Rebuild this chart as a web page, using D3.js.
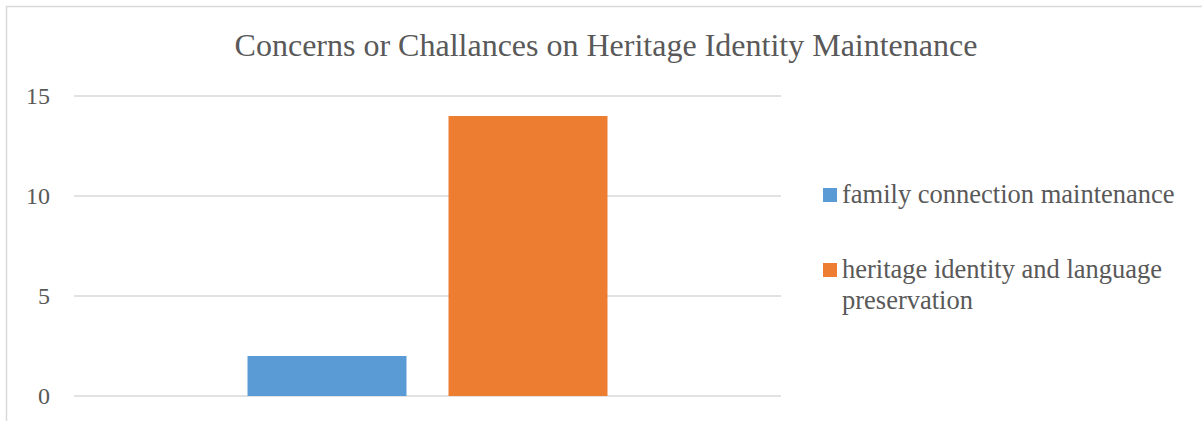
<!DOCTYPE html>
<html>
<head>
<meta charset="utf-8">
<script src="https://cdn.jsdelivr.net/npm/d3@7"></script>
<style>
  body { margin: 0; background: #fff; }
  text { font-family: "Liberation Serif", "Times New Roman", serif; fill: #595959; }
</style>
</head>
<body>
<script>
// chart data
const categories = ["Concerns"]
const seriesNames = ["family connection maintenance", "heritage identity and language preservation"]
const seriesValues = [2, 14]
const seriesColors = ["#5b9bd5", "#ed7d31"]
const yTicks = [0, 5, 10, 15]

const width = 1202, height = 421
const plot = { left: 74, right: 781, top: 96, bottom: 396 }

const svg = d3.select("body").append("svg")
    .attr("width", width)
    .attr("height", height)

// chart border (only top/left show inside the window)
svg.append("rect")
    .attr("x", 6.5).attr("y", 6.5)
    .attr("width", width + 20).attr("height", height + 20)
    .attr("fill", "none")
    .attr("stroke", "#d9d9d9")
    .attr("stroke-width", 1.5)

const y = d3.scaleLinear()
    .domain([0, 15])
    .range([plot.bottom, plot.top])

const x0 = d3.scaleBand()
    .domain(categories)
    .range([plot.left, plot.right])
    .paddingInner(0)
    .paddingOuter(0.482)

const x1 = d3.scaleBand()
    .domain(seriesNames)
    .range([0, x0.bandwidth()])
    .paddingInner(0.209)
    .paddingOuter(0)

// gridlines
svg.append("g")
    .selectAll("line")
    .data(yTicks)
    .enter().append("line")
      .attr("x1", plot.left).attr("x2", plot.right)
      .attr("y1", d => y(d)).attr("y2", d => y(d))
      .attr("stroke", "#d9d9d9")
      .attr("stroke-width", 1.5)

// y labels
svg.append("g")
    .selectAll("text")
    .data(yTicks)
    .enter().append("text")
      .attr("x", 50)
      .attr("y", d => y(d))
      .attr("dy", "0.33em")
      .attr("text-anchor", "end")
      .style("font-size", "24px")
      .text(d => d)

// bars
svg.append("g")
    .selectAll("rect")
    .data(seriesNames.map((s, i) => ({ name: s, value: seriesValues[i], color: seriesColors[i] })))
    .enter().append("rect")
      .attr("x", d => x0(categories[0]) + x1(d.name))
      .attr("width", x1.bandwidth())
      .attr("y", d => y(d.value))
      .attr("height", d => y(0) - y(d.value))
      .attr("fill", d => d.color)

// title
svg.append("text")
    .attr("x", 606)
    .attr("y", 56)
    .attr("text-anchor", "middle")
    .style("font-size", "32px")
    .text("Concerns or Challances on Heritage Identity Maintenance")

// legend
const legendLines = [["family connection maintenance"], ["heritage identity and language", "preservation"]]
const legendY = [203, 278]

const legend = svg.append("g")
    .selectAll("g")
    .data(seriesNames)
    .enter().append("g")

legend.append("rect")
    .attr("x", 823)
    .attr("y", (d, i) => legendY[i] - 15)
    .attr("width", 14).attr("height", 14)
    .attr("fill", (d, i) => seriesColors[i])

legend.append("text")
    .attr("y", (d, i) => legendY[i])
    .style("font-size", "26.5px")
    .selectAll("tspan")
    .data((d, i) => legendLines[i])
    .enter().append("tspan")
      .attr("x", 842)
      .attr("dy", (d, j) => j === 0 ? 0 : 31)
      .text(d => d)
</script>
</body>
</html>
